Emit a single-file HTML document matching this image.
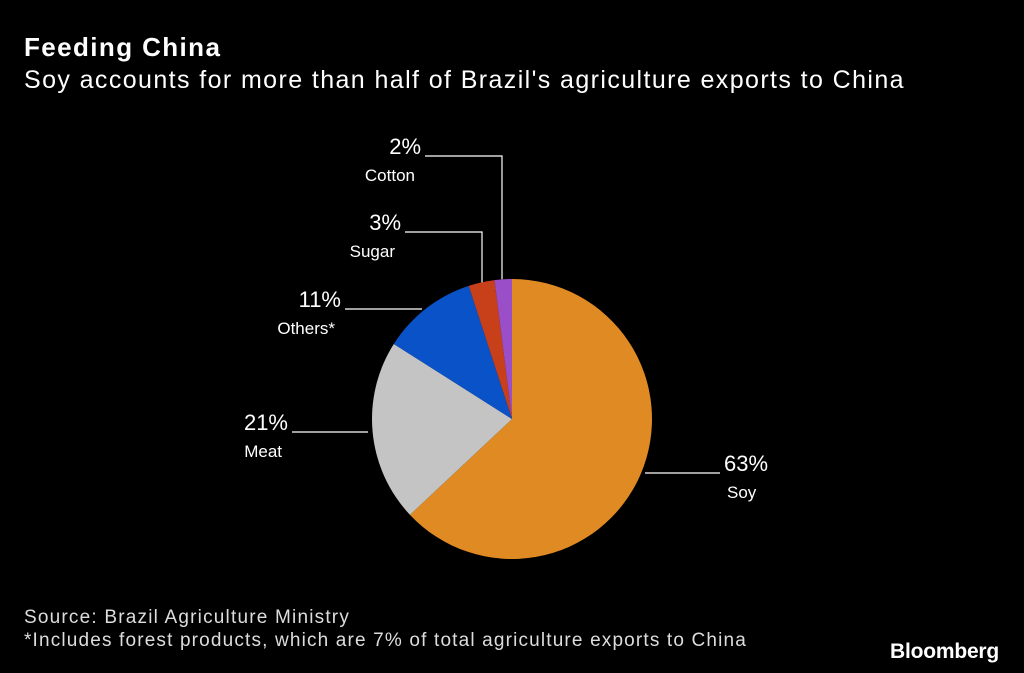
<!DOCTYPE html>
<html><head><meta charset="utf-8"><style>
body{margin:0;background:#000;width:1024px;height:673px;overflow:hidden;font-family:"Liberation Sans",sans-serif;color:#fff}
.t{position:absolute;white-space:nowrap}
</style></head><body>
<div class="t" style="left:24px;top:32px;font-size:26px;font-weight:bold;letter-spacing:1.4px">Feeding China</div>
<div class="t" style="left:24px;top:66px;font-size:25px;letter-spacing:1.4px">Soy accounts for more than half of Brazil's agriculture exports to China</div>
<svg id="pie" width="1024" height="673" style="position:absolute;left:0;top:0"></svg>
<div class="t" style="left:24px;top:607px;font-size:19px;color:#ddd;letter-spacing:1.2px">Source: Brazil Agriculture Ministry</div>
<div class="t" style="left:24px;top:630px;font-size:19px;color:#ddd;letter-spacing:1.16px">*Includes forest products, which are 7% of total agriculture exports to China</div>
<div class="t" style="left:890px;top:640px;font-size:21px;font-weight:bold;letter-spacing:-0.2px">Bloomberg</div>
<script>
const categories=["Soy","Meat","Others*","Sugar","Cotton"];
const values=[63,21,11,3,2];
const colors=["#e08a24","#c4c4c4","#0a52c8","#c8401a","#9a4fc8"];
const svg=document.getElementById('pie');
const NS="http://www.w3.org/2000/svg";
const cx=512,cy=419,r=140;
const total=values.reduce((a,b)=>a+b,0);
function pt(a,rr){return [cx+rr*Math.sin(a),cy-rr*Math.cos(a)];}
const labelPos=[[645,473,720,'r'],[368,432,292,'l'],[422,309,345,'l'],[482,232,405,'l'],[502,156,425,'l']];
let a0=0;
values.forEach((v,i)=>{
  const a1=a0+v/total*2*Math.PI;
  const [x0,y0]=pt(a0,r),[x1,y1]=pt(a1,r);
  const p=document.createElementNS(NS,'path');
  p.setAttribute('d',`M${cx},${cy}L${x0},${y0}A${r},${r} 0 ${a1-a0>Math.PI?1:0} 1 ${x1},${y1}Z`);
  p.setAttribute('fill',colors[i]);
  
  
  svg.appendChild(p);
  const L=labelPos[i];
  const mid=(a0+a1)/2;
  const [mx,my]=pt(mid,r);
  const line=document.createElementNS(NS,'polyline');
  let pts;
  if(L[3]==='r') pts=`${L[0]},${L[1]} ${L[2]},${L[1]}`;
  else if(i>=3) pts=`${L[2]},${L[1]} ${L[0]},${L[1]} ${L[0]},${my}`;
  else pts=`${L[2]},${L[1]} ${L[0]},${L[1]}`;
  line.setAttribute('points',pts);
  line.setAttribute('fill','none');line.setAttribute('stroke','#fff');line.setAttribute('stroke-width','1.2');
  
  
  svg.appendChild(line);
  const t1=document.createElementNS(NS,'text');
  const t2=document.createElementNS(NS,'text');
  if(L[3]==='r'){t1.setAttribute('x',L[2]+4);t2.setAttribute('x',L[2]+7);}
  else{t1.setAttribute('x',L[2]-4);t2.setAttribute('x',L[2]-10);t1.setAttribute('text-anchor','end');t2.setAttribute('text-anchor','end');}
  t1.setAttribute('y',L[1]-2);t2.setAttribute('y',L[1]+25);
  t1.setAttribute('font-size','22');t2.setAttribute('font-size','17');
  t1.setAttribute('fill','#fff');t2.setAttribute('fill','#fff');
  t1.setAttribute('font-family','Liberation Sans, sans-serif');t2.setAttribute('font-family','Liberation Sans, sans-serif');
  t1.textContent=v+'%';t2.textContent=categories[i];
  
  
  
  
  svg.appendChild(t1);svg.appendChild(t2);
  a0=a1;
});
</script>
</body></html>
